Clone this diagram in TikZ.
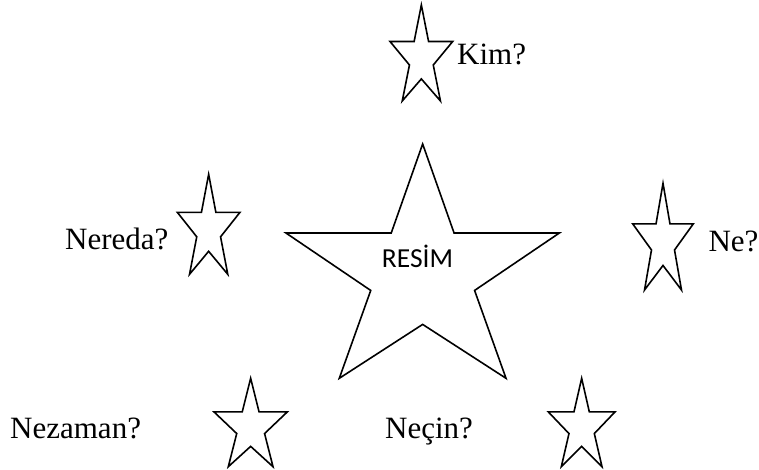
\documentclass[tikz,border=0pt]{standalone}
\usepackage{fontspec}
\setmainfont{Liberation Serif}
\newfontfamily\calfont{Carlito}
\newcommand{\fivestar}[4]{%
  \begin{scope}[shift={(#1,#2)},xscale=#3,yscale=#4]
    \draw[starline] (0.5,0) -- (0.615,0.38) -- (1,0.38) -- (0.69,0.625) -- (0.805,1)
      -- (0.5,0.77) -- (0.195,1) -- (0.31,0.625) -- (0,0.38) -- (0.385,0.38) -- cycle;
  \end{scope}}
\begin{document}
\begin{tikzpicture}[x=1pt,y=-1pt,
  starline/.style={line width=1.6pt,black},
  qlabel/.style={anchor=base west,inner sep=0pt,font=\fontsize{31}{31}\selectfont},
  mainlabel/.style={anchor=base west,inner sep=0pt,font=\calfont\fontsize{27.5}{27.5}\selectfont}]
  \useasboundingbox[fill=white] (0,0) rectangle (759,470);
  % stars
  \fivestar{286}{144}{273.3}{234.3}
  \fivestar{390}{5}{62.7}{96}
  \fivestar{177.3}{174.3}{62.7}{100}
  \fivestar{632.7}{183.3}{60.6}{106.7}
  \fivestar{214}{378.3}{73.3}{88.4}
  \fivestar{548.3}{378.3}{66.7}{88.4}
  % labels
  \node[mainlabel] (resim) at (381.7,267) {RESİM};
  \node[qlabel] (kim) at (457,65) {Kim?};
  \node[qlabel] (nereda) at (65,249.3) {Nereda?};
  \node[qlabel] (ne) at (708.3,251) {Ne?};
  \node[qlabel] (nezaman) at (10,438.3) {Nezaman?};
  \node[qlabel] (necin) at (385,438.3) {Neçin?};
\end{tikzpicture}
\end{document}
